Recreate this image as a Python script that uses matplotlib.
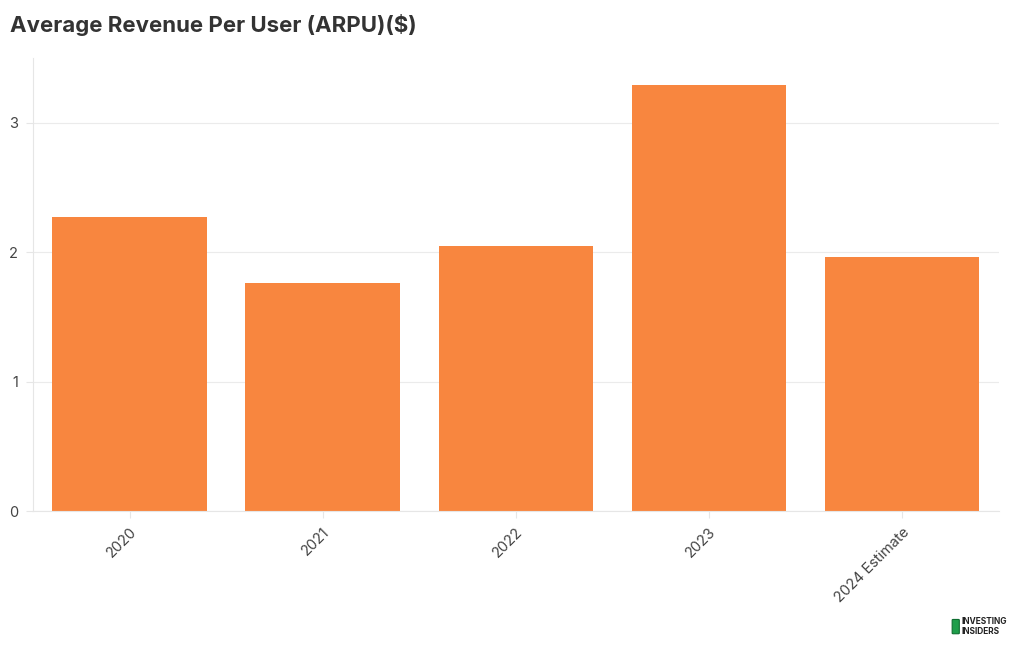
import matplotlib.pyplot as plt
from matplotlib.patches import FancyBboxPatch

years = ['2020', '2021', '2022', '2023', '2024 Estimate']
arpu = [2.27, 1.76, 2.05, 3.29, 1.96]

plt.rcParams['font.family'] = ['Inter', 'DejaVu Sans']

fig = plt.figure(figsize=(10.2, 6.5), dpi=100)
ax = fig.add_axes([0.0324, 0.2138, 0.9466, 0.697])

x = range(len(years))
ax.bar(x, arpu, width=0.8, color='#F8863F', zorder=2)

ax.set_xlim(-0.5, len(years) - 0.5)
ax.set_ylim(0, 3.5)
ax.set_yticks([0, 1, 2, 3])
ax.set_xticks(list(x))
ax.set_xticklabels(years, rotation=45, ha='right', rotation_mode='anchor')
ax.tick_params(axis='both', colors='#e6e6e6', labelcolor='#444444', labelsize=10.5, length=5)
ax.tick_params(axis='x', pad=5)
ax.tick_params(axis='y', pad=6)

ax.grid(axis='y', color='#ebebeb', linewidth=0.8, zorder=0)
for side in ['top', 'right']:
    ax.spines[side].set_visible(False)
for side in ['left', 'bottom']:
    ax.spines[side].set_color('#e6e6e6')
    ax.spines[side].set_linewidth(0.8)

fig.text(0.0098, 0.962, 'Average Revenue Per User (ARPU)($)', fontsize=16,
         fontweight='bold', color='#333333', va='center', ha='left')

# logo
fig.patches.append(FancyBboxPatch((0.9345, 0.026), 0.005, 0.02,
                                  boxstyle='round,pad=0.001', transform=fig.transFigure,
                                  facecolor='#1e9e4a', edgecolor='#0e6e30', linewidth=0.8))
fig.text(0.943, 0.0435, 'INVESTING', fontsize=6, fontweight='bold', color='#222222',
         va='center', ha='left')
fig.text(0.943, 0.029, 'INSIDERS', fontsize=6, fontweight='bold', color='#222222',
         va='center', ha='left')

fig.savefig('out.png', dpi=100, facecolor='white')
